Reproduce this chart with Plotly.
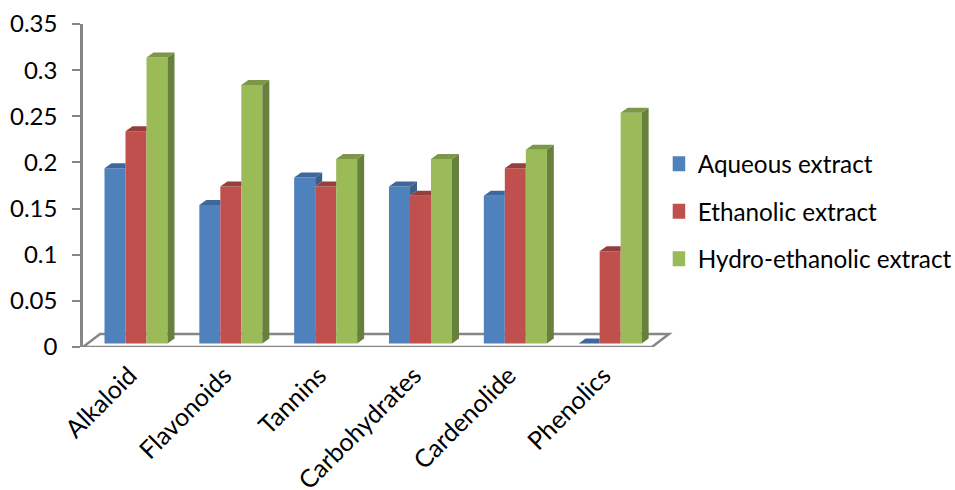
import plotly.graph_objects as go

categories = ["Alkaloid", "Flavonoids", "Tannins", "Carbohydrates", "Cardenolide", "Phenolics"]
aqueous = [0.19, 0.15, 0.18, 0.17, 0.16, 0.0]
ethanolic = [0.23, 0.17, 0.17, 0.16, 0.19, 0.10]
hydro = [0.31, 0.28, 0.20, 0.20, 0.21, 0.25]
series_names = ["Aqueous extract", "Ethanolic extract", "Hydro-ethanolic extract"]
y_ticks = [0, 0.05, 0.1, 0.15, 0.2, 0.25, 0.3, 0.35]
y_labels = ["0", "0.05", "0.1", "0.15", "0.2", "0.25", "0.3", "0.35"]

front = ["#4F81BD", "#C0504D", "#9BBB59"]
top = ["#3E689B", "#953F3C", "#7C9747"]
side = ["#3A5F8C", "#8A3836", "#67803B"]
GREY = "#868686"

# geometry, in axis units
PX_X = 94.83            # px per category
PX_Y = 323 / 0.35       # px per unit of value
L, R, T, B = 83, 265, 24, 143
W = 21 / PX_X
START = 21.5 / PX_X
DX, DY = 7 / PX_X, 5 / PX_Y
LIFT = 3.5 / PX_Y
FX, FY = 17 / PX_X, 13 / PX_Y
n = len(categories)
all_series = [aqueous, ethanolic, hydro]

fig = go.Figure()


def poly(xs, ys, color):
    return go.Scatter(x=xs + xs[:1], y=ys + ys[:1], mode="lines", fill="toself",
                      fillcolor=color, line=dict(width=0), showlegend=False, hoverinfo="skip")


# front faces
for s, vals in enumerate(all_series):
    fig.add_bar(x=[i + START + (s + 0.5) * W for i in range(n)], y=vals, base=LIFT, width=W,
                marker=dict(color=front[s], line=dict(width=0)), name=series_names[s], showlegend=False)

# top and side faces
for i in range(n):
    for s, vals in enumerate(all_series):
        x0 = i + START + s * W
        x1 = x0 + W
        h = vals[i] + LIFT
        nxt = all_series[s + 1][i] + LIFT if s < 2 else None
        if nxt is not None and nxt >= h:
            fig.add_trace(poly([x0, x1, x1, x0 + DX], [h, h, h + DY, h + DY], top[s]))
        else:
            low = LIFT if nxt is None else nxt
            fig.add_trace(poly([x1, x1, x1 + DX, x1 + DX], [low, h, h + DY, low + DY], side[s]))
            fig.add_trace(poly([x0, x1, x1 + DX, x0 + DX], [h, h, h + DY, h + DY], top[s]))

# legend entries
for s in range(3):
    fig.add_trace(go.Scatter(x=[None], y=[None], mode="markers", name=series_names[s], legendgroup=str(s),
                             marker=dict(symbol="square", size=15, color=front[s], line=dict(width=0))))

floor = dict(type="path", layer="below", line=dict(color=GREY, width=2.5),
             path=f"M 0 0 L {n} 0 L {n + FX} {FY} L {FX} {FY} Z")

fig.update_layout(
    width=955, height=490, margin=dict(l=L, r=R, t=T, b=B, autoexpand=False),
    paper_bgcolor="white", plot_bgcolor="white", barmode="overlay",
    font=dict(family="Lato, Carlito, Calibri, sans-serif", size=24, color="#000000"),
    shapes=[floor],
    legend=dict(x=0.9715, y=0.42, xanchor="left", yanchor="middle", xref="paper", yref="paper",
                tracegroupgap=13, itemsizing="trace", font=dict(size=24.3), indentation=-15),
    xaxis=dict(range=[0, (955 - L - R) / PX_X], tickmode="array", tickvals=[i + 0.49 for i in range(n)],
               ticktext=categories, tickangle=-45, showgrid=False, zeroline=False, showline=False,
               ticks="", ticklabelstandoff=8, tickfont=dict(size=25)),
    yaxis=dict(range=[0, 0.35], tickmode="array", tickvals=y_ticks, ticktext=y_labels, showgrid=False,
               zeroline=False, showline=True, linecolor=GREY, linewidth=2.5, ticks="outside",
               tickcolor=GREY, tickwidth=2, ticklen=8, ticklabelstandoff=10),
)
fig.write_html("out.html", config={"displayModeBar": False},
               post_script="document.body.style.margin='0';document.body.style.overflow='hidden';")
